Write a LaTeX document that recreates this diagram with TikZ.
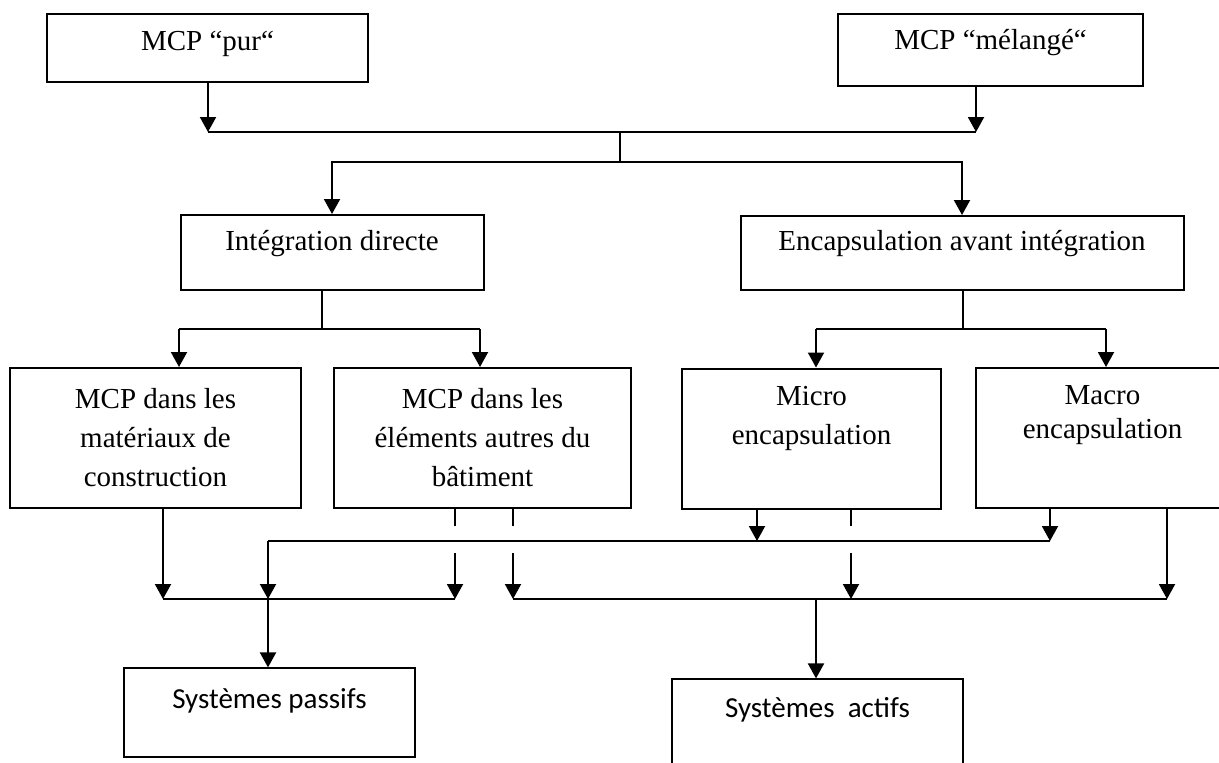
\documentclass[tikz,border=0pt]{standalone}
\usepackage{fontspec}
\setmainfont{Liberation Serif}
\newfontfamily\calibri{Carlito}
\usetikzlibrary{arrows.meta}

\tikzset{
  boite/.style={draw, line width=1pt, inner sep=0pt},
  boitesys/.style={draw, line width=0.6pt, inner sep=0pt},
  texte/.style={font=\fontsize{14.5}{19.5}\selectfont, align=center, inner sep=0pt},
  textesys/.style={font=\calibri\fontsize{14.5}{17.5}\selectfont, inner sep=0pt},
  fil/.style={line width=0.7pt},
  fleche/.style={line width=1pt, -{Triangle[length=7.5pt,width=8pt]}}
}

\begin{document}
\begin{tikzpicture}[x=0.5pt, y=-0.5pt]
			\useasboundingbox (0,0) rectangle (1219,762);
			\clip (0,0) rectangle (1219,762);

			% Noeuds
			\node[boite, minimum width=160.5pt, minimum height=34pt,
				label={[texte, yshift=2pt]center:MCP “pur“}] (pur) at (207.5,48) {};
			\node[boite, minimum width=152.5pt, minimum height=36pt,
				label={[texte, yshift=3.5pt]center:MCP “mélangé“}] (melange) at (990.5,50) {};

			\node[boite, minimum width=151.5pt, minimum height=37.5pt,
				label={[texte, yshift=4.5pt]center:Intégration directe}] (integ) at (332,252.5) {};
			\node[boite, minimum width=221.5pt, minimum height=37pt,
				label={[texte, yshift=4.5pt]center:Encapsulation avant intégration}] (encaps) at (962,253) {};

			\node[boite, minimum width=145.5pt, minimum height=70pt,
				label={[texte]center:MCP dans les\\matériaux de\\construction}] (materiaux) at (155.5,438) {};
			\node[boite, minimum width=148.5pt, minimum height=70pt,
				label={[texte]center:MCP dans les\\éléments autres du\\bâtiment}] (elements) at (482.5,438) {};
			\node[boite, minimum width=129.5pt, minimum height=70pt,
				label={[texte, yshift=10pt]center:Micro\\encapsulation}] (micro) at (811.5,438.5) {};
			\node[boite, minimum width=126.5pt, minimum height=70pt,
				label={[texte, font=\fontsize{14.5}{17}\selectfont, yshift=11.5pt]center:Macro\\encapsulation}] (macro) at (1102.5,438) {};

			\node[boitesys, minimum width=145.5pt, minimum height=44.5pt,
				label={[textesys, yshift=6pt]center:Systèmes passifs}] (passif) at (269.5,712.5) {};
			\node[boitesys, minimum width=145.5pt, minimum height=44.5pt,
				label={[textesys, yshift=6.75pt]center:Systèmes\ \ actifs}] (actif) at (817.5,723.5) {};

			% Points de jonction
			\coordinate (h1) at (208,132);
			\coordinate (h2) at (976,132);
			\coordinate (j1) at (620,132);
			\coordinate (j2) at (620,162);

			\coordinate (k1) at (322,329);
			\coordinate (g1) at (179,329);
			\coordinate (g2) at (480,329);
			\coordinate (k2) at (963,329);
			\coordinate (g3) at (816,329);
			\coordinate (g4) at (1106,329);

			\coordinate (c1) at (268,541);
			\coordinate (c2) at (757,541);
			\coordinate (c3) at (1050,541);

			\coordinate (d1) at (455,526);
			\coordinate (d2) at (513,526);
			\coordinate (d3) at (851,526);
			\coordinate (e1) at (455,553);
			\coordinate (e2) at (513,553);
			\coordinate (e3) at (851,553);

			\coordinate (b1) at (163,599);
			\coordinate (b2) at (268,599);
			\coordinate (b3) at (455,599);
			\coordinate (b4) at (513,599);
			\coordinate (b5) at (851,599);
			\coordinate (b6) at (1167,599);
			\coordinate (b7) at (816,599);

			% Collegamenti haut
			\draw[fleche] (pur.south -| h1) -- (h1);
			\draw[fleche] (melange.south -| h2) -- (h2);
			\draw[fil] (h1) -- (h2);
			\draw[fil] (j1) -- (j2);
			\draw[fleche] (j2) -| (integ);
			\draw[fleche] (j2) -| (encaps);

			% Collegamenti milieu
			\draw[fil] (integ.south -| k1) -- (k1);
			\draw[fil] (g1) -- (g2);
			\draw[fleche] (g1) -- (materiaux.north -| g1);
			\draw[fleche] (g2) -- (elements.north -| g2);

			\draw[fil] (encaps.south -| k2) -- (k2);
			\draw[fil] (g3) -- (g4);
			\draw[fleche] (g3) -- (micro.north -| g3);
			\draw[fleche] (g4) -- (macro.north -| g4);

			% Collegamenti bas
			\draw[fleche] (materiaux.south -| b1) -- (b1);
			\draw[fil] (b1) -- (b3);
			\draw[fil] (c1) -- (c3);
			\draw[fleche] (c1) -- (b2);
			\draw[fleche] (b2) -- (passif.north -| b2);

			\draw[fil] (elements.south -| d1) -- (d1);
			\draw[fleche] (e1) -- (b3);
			\draw[fil] (elements.south -| d2) -- (d2);
			\draw[fleche] (e2) -- (b4);

			\draw[fleche] (micro.south -| c2) -- (c2);
			\draw[fil] (micro.south -| d3) -- (d3);
			\draw[fleche] (e3) -- (b5);

			\draw[fleche] (macro.south -| c3) -- (c3);
			\draw[fleche] (macro.south -| b6) -- (b6);

			\draw[fil] (b4) -- (b6);
			\draw[fleche] (b7) -- (actif.north -| b7);

		\end{tikzpicture}
\end{document}
